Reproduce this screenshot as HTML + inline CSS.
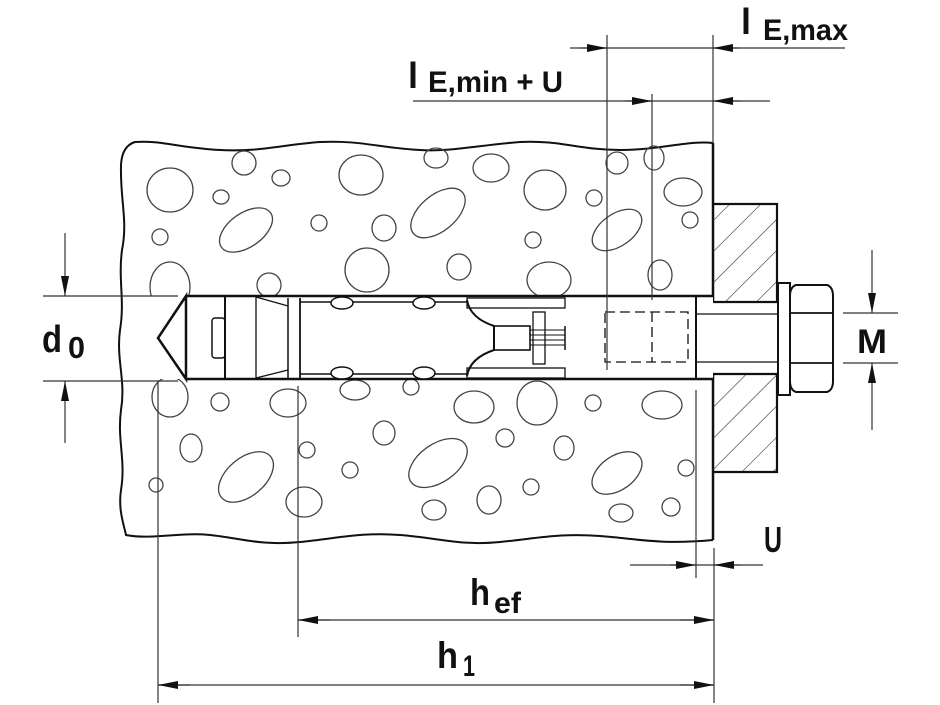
<!DOCTYPE html>
<html><head><meta charset="utf-8"><style>
html,body{margin:0;padding:0;background:#fff;}
svg{display:block}
text{font-family:"Liberation Sans",Arial,sans-serif;fill:#111;font-weight:bold;}
</style></head><body>
<svg width="940" height="705" viewBox="0 0 940 705" xmlns="http://www.w3.org/2000/svg">
<defs>
<marker id="a" viewBox="0 0 20 10" refX="20" refY="5" markerWidth="20" markerHeight="10" markerUnits="userSpaceOnUse" orient="auto"><path d="M0,1 L20,5 L0,9 Z" fill="#111"/></marker>
<pattern id="h" width="22" height="22" patternUnits="userSpaceOnUse" patternTransform="rotate(45)"><line x1="0" y1="0" x2="0" y2="22" stroke="#333" stroke-width="1.2"/></pattern>
</defs>

<path d="M713,143 C690,140 660,150 620,150 C580,150 560,140 520,142 C480,145 450,152 420,150 C380,148 360,140 320,142 C280,145 260,152 220,150 C180,148 160,140 135,142 Q122,146 121,165 C120,200 128,220 122,250 C118,280 125,300 120,330 C116,360 126,380 121,410 C117,440 126,460 121,490 C118,510 124,525 126,535 C150,540 180,532 210,535 C240,538 260,546 300,542 C340,538 360,532 400,535 C440,538 460,546 500,542 C540,538 560,533 600,536 C640,539 660,545 713,540" fill="none" stroke="#111" stroke-width="2"/>
<line x1="713" y1="143" x2="713" y2="540" stroke="#111" stroke-width="2.5"/>

<g fill="none" stroke="#444" stroke-width="1.3">
<ellipse cx="170" cy="190" rx="23" ry="22"/><ellipse cx="244" cy="163" rx="12" ry="12"/><ellipse cx="281" cy="178" rx="9" ry="8"/><ellipse cx="221" cy="197" rx="8" ry="7"/>
<ellipse cx="246" cy="230" rx="30" ry="17" transform="rotate(-35 246 230)"/><ellipse cx="160" cy="237" rx="8" ry="8"/><ellipse cx="361" cy="175" rx="22" ry="20"/><ellipse cx="319" cy="223" rx="8" ry="8"/>
<ellipse cx="384" cy="228" rx="12" ry="13"/><ellipse cx="436" cy="158" rx="12" ry="10"/><ellipse cx="491" cy="168" rx="18" ry="14"/><ellipse cx="438" cy="213" rx="32" ry="18" transform="rotate(-40 438 213)"/>
<ellipse cx="545" cy="190" rx="21" ry="20"/><ellipse cx="533" cy="240" rx="8" ry="8"/><ellipse cx="594" cy="198" rx="8" ry="8"/><ellipse cx="617" cy="230" rx="28" ry="16" transform="rotate(-35 617 230)"/>
<ellipse cx="617" cy="163" rx="11" ry="11"/><ellipse cx="654" cy="158" rx="10" ry="12"/><ellipse cx="683" cy="192" rx="19" ry="14"/><ellipse cx="690" cy="220" rx="8" ry="8"/>
<ellipse cx="170" cy="287" rx="20" ry="25"/><ellipse cx="269" cy="285" rx="12" ry="12"/><ellipse cx="367" cy="270" rx="22" ry="22"/><ellipse cx="459" cy="267" rx="12" ry="13"/>
<ellipse cx="549" cy="280" rx="22" ry="18"/><ellipse cx="660" cy="275" rx="12" ry="15"/>
<ellipse cx="170" cy="397" rx="18" ry="20"/><ellipse cx="220" cy="402" rx="9" ry="9"/><ellipse cx="288" cy="403" rx="18" ry="14"/><ellipse cx="355" cy="390" rx="15" ry="10"/>
<ellipse cx="411" cy="387" rx="8" ry="8"/><ellipse cx="474" cy="407" rx="20" ry="16"/><ellipse cx="537" cy="403" rx="20" ry="22"/><ellipse cx="593" cy="403" rx="8" ry="8"/>
<ellipse cx="662" cy="405" rx="20" ry="14"/><ellipse cx="191" cy="448" rx="11" ry="14"/><ellipse cx="246" cy="477" rx="32" ry="19" transform="rotate(-40 246 477)"/><ellipse cx="307" cy="450" rx="8" ry="8"/>
<ellipse cx="350" cy="470" rx="8" ry="8"/><ellipse cx="384" cy="433" rx="11" ry="12"/><ellipse cx="438" cy="463" rx="33" ry="19" transform="rotate(-35 438 463)"/><ellipse cx="505" cy="438" rx="9" ry="9"/>
<ellipse cx="564" cy="448" rx="10" ry="12"/><ellipse cx="531" cy="487" rx="8" ry="8"/><ellipse cx="617" cy="473" rx="28" ry="17" transform="rotate(-35 617 473)"/><ellipse cx="156" cy="485" rx="7" ry="7"/>
<ellipse cx="304" cy="502" rx="18" ry="15"/><ellipse cx="434" cy="510" rx="12" ry="10"/><ellipse cx="489" cy="500" rx="12" ry="14"/><ellipse cx="621" cy="513" rx="12" ry="9"/>
<ellipse cx="671" cy="507" rx="9" ry="9"/><ellipse cx="686" cy="468" rx="8" ry="8"/>
</g>

<rect x="150" y="296" width="563" height="83" fill="#fff"/>
<g fill="none" stroke="#111">
<line x1="186" y1="296" x2="713" y2="296" stroke-width="2.5"/>
<line x1="186" y1="379" x2="713" y2="379" stroke-width="2.5"/>
<path d="M186,296 L158,338 L186,379 Z" stroke-width="2.5" fill="#fff"/>
<line x1="225" y1="296" x2="225" y2="379" stroke-width="2"/>
<rect x="212" y="318" width="13" height="40" rx="3" stroke-width="1.5"/>
<line x1="256" y1="296" x2="256" y2="379" stroke-width="1.3"/>
<path d="M256,297 L288,306 M256,378 L288,370" stroke-width="1.2"/>
<line x1="288" y1="298" x2="288" y2="378" stroke-width="1.5"/>
<line x1="300" y1="298" x2="300" y2="378" stroke-width="1.8"/>
<line x1="300" y1="302" x2="467" y2="302" stroke-width="1.5"/>
<line x1="300" y1="374" x2="467" y2="374" stroke-width="1.5"/>
<ellipse cx="342" cy="303" rx="11" ry="6" stroke-width="1.5" fill="#fff"/>
<ellipse cx="424" cy="303" rx="11" ry="6" stroke-width="1.5" fill="#fff"/>
<ellipse cx="342" cy="373" rx="11" ry="6" stroke-width="1.5" fill="#fff"/>
<ellipse cx="424" cy="373" rx="11" ry="6" stroke-width="1.5" fill="#fff"/>
<path d="M467,300 Q470,318 494,326 L494,350 Q470,358 467,376" stroke-width="2"/>
<rect x="494" y="326" width="36" height="24" stroke-width="1.6"/>
<path d="M530,330 H565 M530,335 H565 M530,340 H565 M530,345 H565" stroke-width="1"/>
<line x1="565" y1="326" x2="565" y2="350" stroke-width="1.5"/>
<rect x="533" y="312" width="12" height="52" stroke-width="1.3"/>
<rect x="467" y="298" width="98" height="10" stroke-width="1.3"/>
<rect x="467" y="368" width="98" height="10" stroke-width="1.3"/>
<line x1="696" y1="296" x2="696" y2="379" stroke-width="2"/>
<rect x="605" y="312" width="83" height="50" stroke-width="1.3" stroke-dasharray="10,5"/>
<line x1="652" y1="312" x2="652" y2="362" stroke-width="1.3" stroke-dasharray="10,5"/>
</g>

<rect x="713" y="204" width="64" height="268" fill="url(#h)" stroke="none"/>
<rect x="713" y="302" width="64" height="72" fill="#fff"/>
<g fill="none" stroke="#111" stroke-width="2.2">
<path d="M713,204 H777 V302 H713"/><path d="M713,374 H777 V472 H713"/>
<line x1="696" y1="314" x2="778" y2="314" stroke-width="1.3"/>
<line x1="696" y1="362" x2="778" y2="362" stroke-width="1.3"/>
<rect x="778" y="283" width="12" height="112" stroke-width="2"/>
<path d="M796,285 H827 Q833,287 833,296 V381 Q833,390 827,392 H796 Q790,390 790,381 V296 Q790,287 796,285 Z" stroke-width="2"/>
<path d="M790,313 H833 M790,363 H833" stroke-width="1.8"/>
</g>

<g stroke="#333" stroke-width="1.2" fill="none">
<line x1="607" y1="35" x2="607" y2="370"/>
<line x1="713" y1="35" x2="713" y2="143"/>
<line x1="652" y1="94" x2="652" y2="300"/>
<line x1="570" y1="48" x2="845" y2="48"/>
<line x1="413" y1="101" x2="770" y2="101"/>
<line x1="43" y1="296" x2="178" y2="296"/>
<line x1="43" y1="381" x2="178" y2="381"/>
<line x1="843" y1="313" x2="898" y2="313"/>
<line x1="843" y1="363" x2="898" y2="363"/>
<line x1="158" y1="381" x2="158" y2="703"/>
<line x1="298" y1="386" x2="298" y2="637"/>
<line x1="696" y1="390" x2="696" y2="578"/>
<line x1="714" y1="548" x2="714" y2="703"/>
<line x1="630" y1="565" x2="763" y2="565"/>
<line x1="298" y1="620" x2="714" y2="620"/>
<line x1="158" y1="685" x2="714" y2="685"/>
<line x1="65" y1="233" x2="65" y2="296" marker-end="url(#a)"/>
<line x1="65" y1="443" x2="65" y2="381" marker-end="url(#a)"/>
<line x1="872" y1="250" x2="872" y2="313" marker-end="url(#a)"/>
<line x1="872" y1="430" x2="872" y2="363" marker-end="url(#a)"/>
<line x1="580" y1="48" x2="607" y2="48" marker-end="url(#a)"/>
<line x1="740" y1="48" x2="713" y2="48" marker-end="url(#a)"/>
<line x1="625" y1="101" x2="652" y2="101" marker-end="url(#a)"/>
<line x1="740" y1="101" x2="713" y2="101" marker-end="url(#a)"/>
<line x1="670" y1="565" x2="696" y2="565" marker-end="url(#a)"/>
<line x1="740" y1="565" x2="714" y2="565" marker-end="url(#a)"/>
<line x1="330" y1="620" x2="298" y2="620" marker-end="url(#a)"/>
<line x1="680" y1="620" x2="714" y2="620" marker-end="url(#a)"/>
<line x1="190" y1="685" x2="158" y2="685" marker-end="url(#a)"/>
<line x1="680" y1="685" x2="714" y2="685" marker-end="url(#a)"/>
</g>

<text x="741" y="34" font-size="36">l</text>
<text x="763" y="40" font-size="30" textLength="85" lengthAdjust="spacingAndGlyphs">E,max</text>
<text x="408" y="88" font-size="36">l</text>
<text x="428" y="92" font-size="30" textLength="135" lengthAdjust="spacingAndGlyphs">E,min + U</text>
<text x="42" y="352" font-size="38" textLength="20" lengthAdjust="spacingAndGlyphs">d</text>
<text x="68" y="358" font-size="31" textLength="17" lengthAdjust="spacingAndGlyphs">0</text>
<text x="857" y="353" font-size="34" textLength="30" lengthAdjust="spacingAndGlyphs">M</text>
<text x="764" y="552" font-size="36" textLength="18" lengthAdjust="spacingAndGlyphs">U</text>
<text x="470" y="605" font-size="37" textLength="20" lengthAdjust="spacingAndGlyphs">h</text>
<text x="494" y="613" font-size="30" textLength="27" lengthAdjust="spacingAndGlyphs">ef</text>
<text x="437" y="668" font-size="37" textLength="21" lengthAdjust="spacingAndGlyphs">h</text>
<text x="463" y="676" font-size="30" textLength="12" lengthAdjust="spacingAndGlyphs">1</text>
</svg>
</body></html>
